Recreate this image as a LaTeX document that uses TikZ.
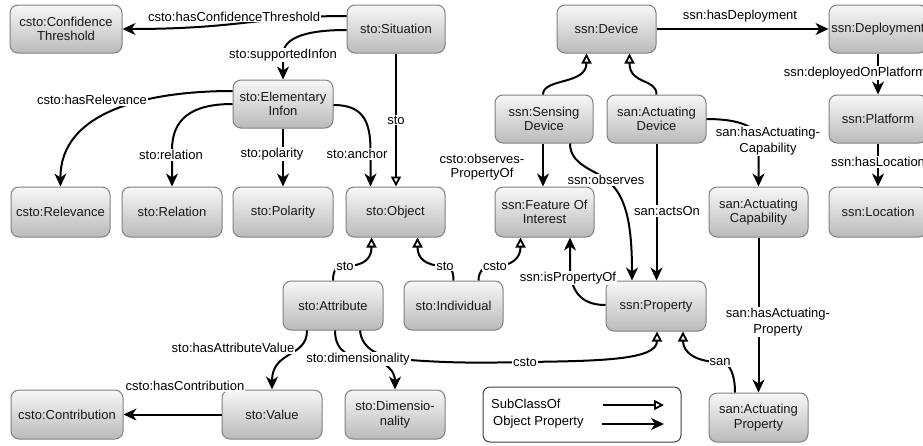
\documentclass[tikz,border=0pt]{standalone}
\usepackage{fontspec}
\setmainfont{Liberation Sans}
\usetikzlibrary{arrows.meta,calc}
\begin{document}
\begin{tikzpicture}[x=1pt,y=-1pt,
  font=\fontsize{13}{14.5}\selectfont,
  box/.style={draw=black!50, line width=1pt, rounded corners=8pt,
    top color=black!3, bottom color=black!27, minimum width=99pt,
    minimum height=48pt, align=center, inner sep=1pt, text=black!90},
  wbox/.style={box, minimum width=112pt},
  edge/.style={line width=2pt, black},
  obj/.style={edge, -{Stealth[length=13pt,width=12pt,inset=4pt]}},
  sub/.style={edge, -{Triangle[open,length=10pt,width=10pt,line width=1.8pt]}},
  lbl/.style={fill=white, inner sep=1pt, align=center, text=black},
  nlbl/.style={inner sep=1pt, align=center, text=black}]
\useasboundingbox (0,0) rectangle (923,445);
\clip (0,0) rectangle (923,445);

% nodes
\node[wbox] (CT) at (66,29) {csto:Confidence\\Threshold};
\node[box, minimum width=98pt] (Sit) at (396,29) {sto:Situation};
\node[box, minimum width=100pt] (Infon) at (283,104) {sto:Elementary\\Infon};
\node[box] (Dev) at (606.5,29) {ssn:Device};
\node[box, minimum width=98pt] (Dep) at (878,29) {ssn:Deployment};
\node[box, minimum width=98pt] (SensDev) at (544,119) {ssn:Sensing\\Device};
\node[box] (ActDev) at (656.5,119) {san:Actuating\\Device};
\node[box, minimum width=98pt] (Plat) at (878,119) {ssn:Platform};
\node[box, minimum height=50pt] (Rel) at (60.5,212) {csto:Relevance};
\node[box, minimum width=100pt, minimum height=50pt] (Relation) at (172,212) {sto:Relation};
\node[box, minimum width=100pt, minimum height=50pt] (Pol) at (283,212) {sto:Polarity};
\node[box, minimum height=50pt] (Obj) at (395.5,212) {sto:Object};
\node[box, minimum height=50pt] (FOI) at (544.5,212) {ssn:Feature Of\\Interest};
\node[box, minimum height=50pt] (ActCap) at (758.5,212) {san:Actuating\\Capability};
\node[box, minimum width=98pt, minimum height=50pt] (Loc) at (878,212) {ssn:Location};
\node[box, minimum width=100pt, minimum height=49pt] (Attr) at (333,305.5) {sto:Attribute};
\node[box, minimum height=49pt] (Indiv) at (453.5,305.5) {sto:Individual};
\node[box, minimum width=100pt, minimum height=50pt] (Prop) at (656,306) {ssn:Property};
\node[wbox, minimum height=49pt] (Contrib) at (67,414.5) {csto:Contribution};
\node[box, minimum width=100pt, minimum height=49pt] (Val) at (272,414.5) {sto:Value};
\node[box, minimum width=100pt, minimum height=49pt] (Dim) at (395,414.5) {sto:Dimensio-\\nality};
\node[box, minimum height=49pt] (ActProp) at (758.5,417.5) {san:Actuating\\Property};

% legend
\node[draw=black!75, line width=1pt, rounded corners=7pt, fill=white,
  minimum width=198pt, minimum height=55pt] (Leg) at (582,414.5) {};
\node[nlbl, anchor=west] (LegA) at (490,404) {SubClassOf};
\node[nlbl, anchor=west] (LegB) at (492,422) {Object Property};
\coordinate (LA1) at (603,405);
\coordinate (LA2) at (664,405);
\coordinate (LB1) at (602,424);
\coordinate (LB2) at (664,424);
\draw[sub] (LA1) -- (LA2);
\draw[obj] (LB1) -- (LB2);

% edges
\draw[obj] ($(Sit.west)+(0,-13)$) .. controls (260,16) and (240,29) .. (CT.east)
  node[lbl, pos=0.5, yshift=6pt, xshift=-12pt] (l1) {csto:hasConfidenceThreshold};
\draw[obj] ($(Sit.west)+(0,1)$) .. controls (300,30) and (283,40) .. (283,55)
  node[lbl] (l2) {sto:supportedInfon} -- (Infon.north);
\draw[sub] (Sit.south) -- (Sit.south |- Obj.north)
  node[lbl, pos=0.5] (l3) {sto};
\draw[obj] ($(Infon.west)+(0,-13)$) .. controls (150,91) and (60,110) .. (Rel.north);
\node[lbl] (l4) at (92,100) {csto:hasRelevance};
\draw[obj] (Infon.west) .. controls (190,104) and (172,120) .. (172,150) -- (Relation.north);
\node[lbl] (l5) at (171,155) {sto:relation};
\draw[obj] (Infon.south) -- (Pol.north);
\node[lbl] (l6) at (272,154) {sto:polarity};
\draw[obj] ($(Infon.east)+(0,1)$) .. controls (362,105) and (370.5,120) .. (370.5,150) -- ($(Obj.north)+(-25,0)$);
\node[lbl] (l7) at (357,154) {sto:anchor};

\draw[sub] (Attr.north) .. controls (333,268) and (338,266) .. (345,266)
  node[lbl] (l8) {sto} .. controls (365,266) and (371.5,258) .. ($(Obj.south)+(-24,0)$);
\draw[sub] (Indiv.north) .. controls (453.5,270) and (450,266) .. (445,266)
  node[lbl] (l9) {sto} .. controls (425,266) and (417.5,258) .. ($(Obj.south)+(22,0)$);
\draw[sub] ($(Indiv.north)+(25,0)$) .. controls (478.5,270) and (485,266) .. (495,266)
  node[lbl] (l10) {csto} .. controls (512,266) and (520.5,258) .. ($(FOI.south)+(-24,0)$);

\draw[sub] ($(SensDev.north)+(-1,0)$) .. controls (543,78) and (586.5,85) .. ($(Dev.south)+(-20,0)$);
\draw[sub] (ActDev.north) .. controls (656.5,78) and (629.5,85) .. ($(Dev.south)+(23,0)$);
\draw[obj] (Dev.east) -- (Dep.west);
\node[nlbl] (l13) at (740,16) {ssn:hasDeployment};
\draw[obj] (Dep.south) -- (Plat.north);
\node[lbl] (l14) at (855,73) {ssn:deployedOnPlatform};
\draw[obj] (Plat.south) -- (Loc.north);
\node[lbl] (l15) at (878,162) {ssn:hasLocation};
\draw[obj] (ActDev.east) .. controls (735,119) and (758.5,125) .. (758.5,141) -- (ActCap.north);
\node[lbl, font=\fontsize{13}{16}\selectfont] (l16) at (768,141) {san:hasActuating-\\Capability};
\draw[obj] (ActCap.south) -- (ActProp.north);
\node[lbl, font=\fontsize{13}{16}\selectfont] (l17) at (778,322) {san:hasActuating-\\Property};
\draw[obj] ($(SensDev.south)+(-1,0)$) -- ($(FOI.north)+(-1.5,0)$);
\node[nlbl, font=\fontsize{13}{14}\selectfont] (l18) at (482,167) {csto:observes-\\PropertyOf};
\draw[obj] ($(SensDev.south)+(26,0)$) .. controls (570,165) and (595,170) .. (607,180)
  .. controls (625,195) and (632,220) .. ($(Prop.north)+(-24,0)$);
\node[lbl] (l19) at (606,180) {ssn:observes};
\draw[obj] (ActDev.south) -- (ActDev.south |- Prop.north);
\node[lbl] (l20) at (667,211) {san:actsOn};
\draw[obj] ($(Prop.west)+(0,-1)$) .. controls (580,305) and (570,290) .. (570,265) -- ($(FOI.south)+(25.5,0)$);
\node[lbl] (l21) at (568,278) {ssn:isPropertyOf};

\draw[sub] ($(Attr.south)+(27,0)$) .. controls (362,350) and (380,358) .. (410,360)
  .. controls (450,363) and (480,363) .. (525,362)
  node[lbl] (l24) {csto} .. controls (600,361) and (657,360) .. ($(Prop.south)+(1,0)$);
\draw[obj] ($(Attr.south)+(-26,0)$) .. controls (307,358) and (272,350) .. (Val.north);
\node[lbl] (l22) at (233,348) {sto:hasAttributeValue};
\draw[obj] ($(Attr.south)+(2,0)$) .. controls (335,352) and (350,358) .. (370,360)
  .. controls (388,362) and (395,372) .. (Dim.north);
\node[lbl] (l23) at (358,359) {sto:dimensionality};
\draw[sub] ($(ActProp.north)+(-23.5,0)$) .. controls (735,375) and (730,362) .. (720,362)
  node[lbl] (l25) {san} .. controls (695,362) and (683,352) .. ($(Prop.south)+(27,0)$);
\draw[obj] (Val.west) -- (Contrib.east);
\node[lbl] (l26) at (185,386) {csto:hasContribution};
\end{tikzpicture}
\end{document}
